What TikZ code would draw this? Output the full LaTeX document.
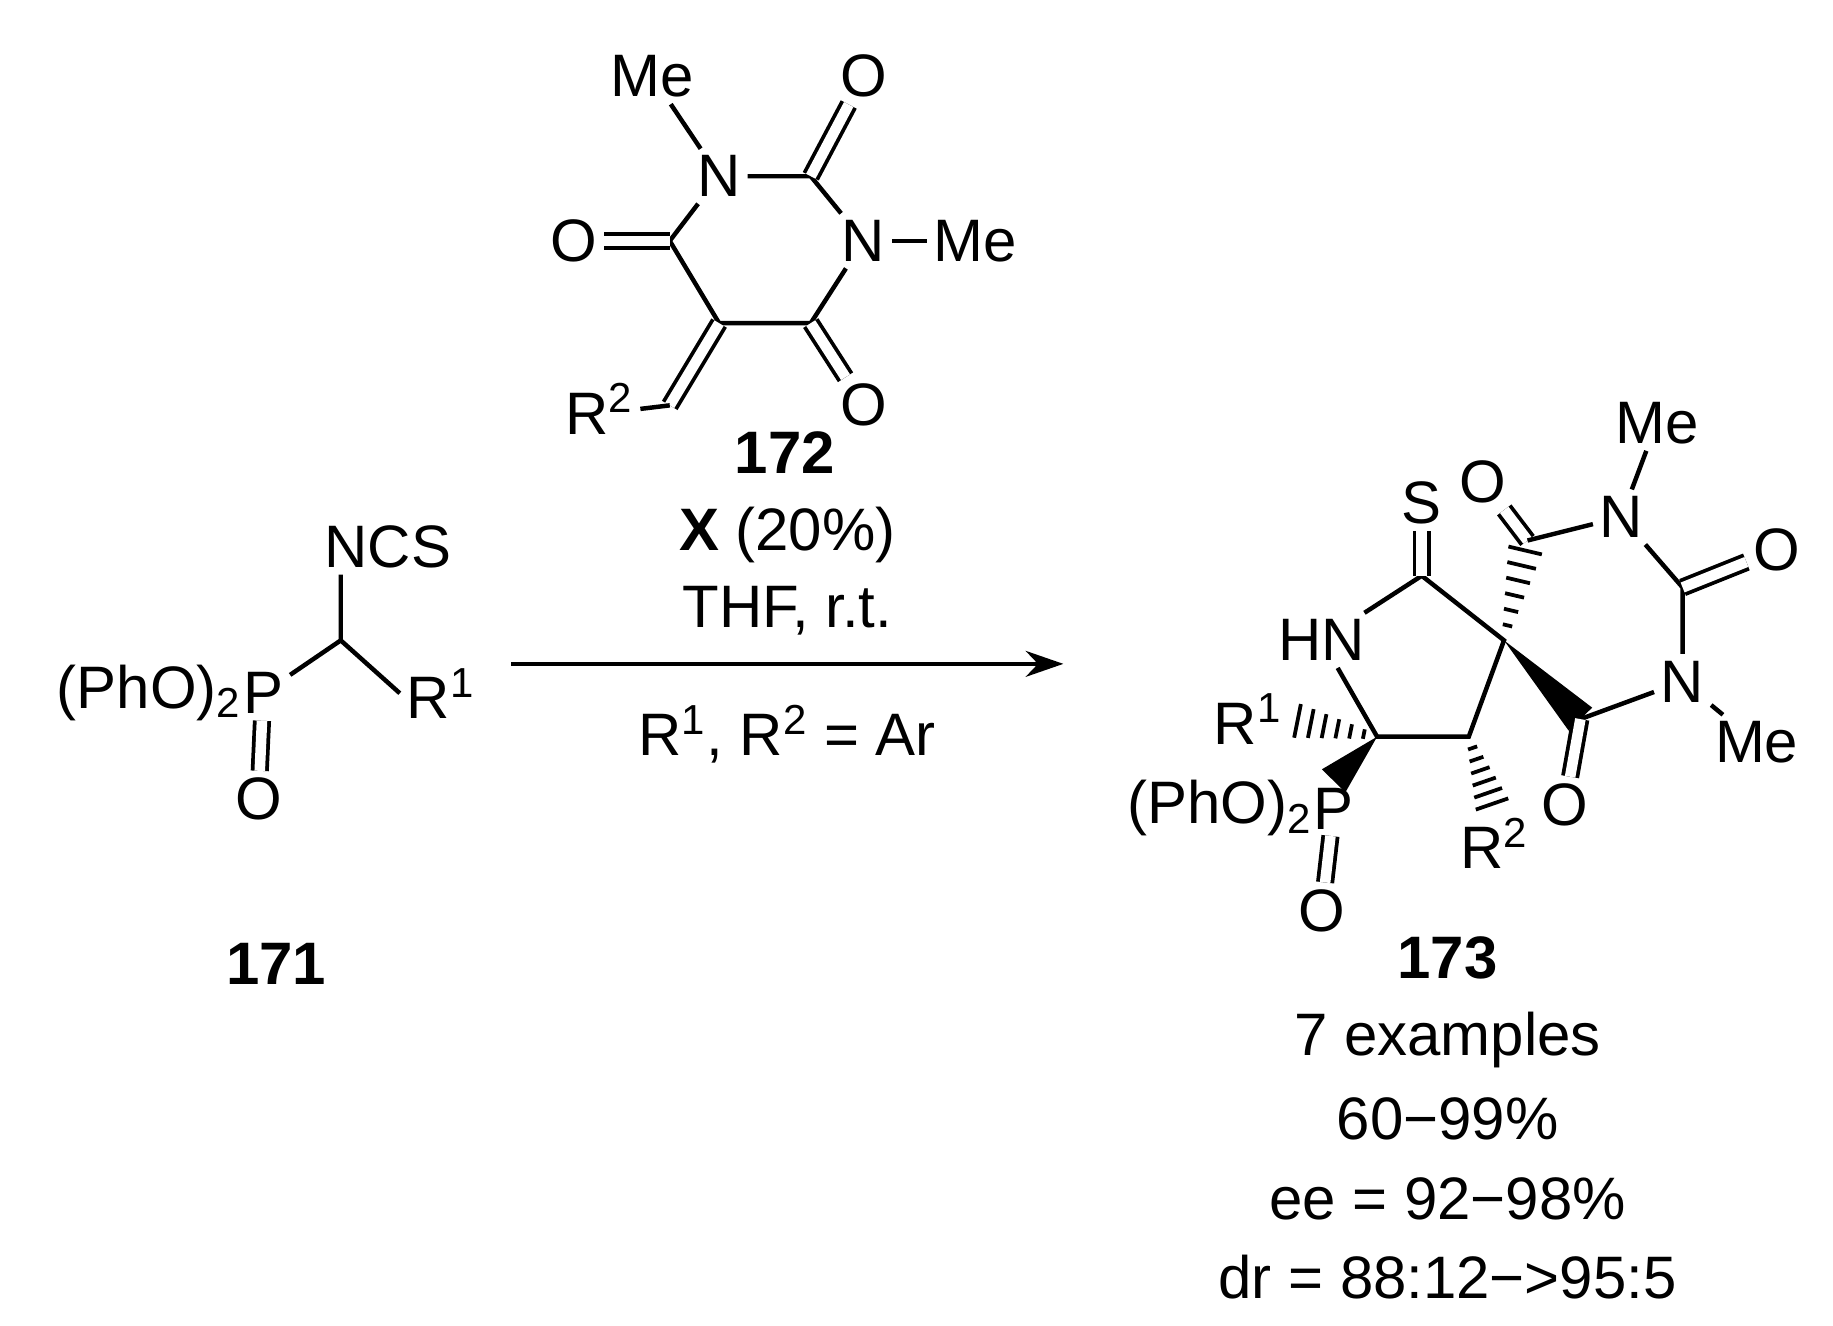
\documentclass[tikz,border=0pt]{standalone}
\usepackage{fontspec}
\setmainfont{Liberation Sans}
\usetikzlibrary{calc,arrows.meta}
\newcommand\hashb[2]{%
  \foreach \t in {0.15,0.3,...,1.0}{%
    \pgfmathsetmacro\w{1+\t*7}
    \coordinate (hh) at ($(#1)!\t!(#2)$);
    \draw[line width=1.6pt] ($(hh)!\w pt!90:(#2)$) -- ($(hh)!\w pt!-90:(#2)$);}}
\newcommand\wedgeb[2]{\fill (#1) -- ($(#2)!7pt!90:(#1)$) -- ($(#2)!7pt!-90:(#1)$) -- cycle;}
\begin{document}
\begin{tikzpicture}[x=0.5pt,y=-0.5pt,line width=1.9pt,
  every node/.style={font=\fontsize{25.5}{30}\selectfont},
  atm/.style={inner sep=2pt},
  lbl/.style={inner sep=0pt},
  dbl/.style={double, double distance=4.5pt, line width=1.6pt}]
\useasboundingbox (0,0) rectangle (1560,1128);
% ---- 172 ----
\node[atm] (n1) at (612,150) {N};
\coordinate (c2) at (690,150);
\node[atm] (n3) at (735,205) {N};
\coordinate (c4) at (690,275);
\coordinate (c5) at (612,275);
\coordinate (c6) at (570,205);
\node[atm] (me1) at (555,65) {Me};
\node[atm] (o2) at (735,65) {O};
\node[atm] (me3) at (830,205) {Me};
\node[atm] (o6) at (488,205) {O};
\node[atm] (o4) at (735,345) {O};
\coordinate (ch) at (570,345);
\node[atm,anchor=east] (r2a) at (545,348) {R\textsuperscript{2}};
\draw (me1) -- (n1) -- (c2) -- (n3) -- (c4) -- (c5) -- (c6) -- (n1);
\draw (n3) -- (me3);
\draw[dbl] (c2) -- (o2);
\draw[dbl] (c6) -- (o6);
\draw[dbl] (c4) -- (o4);
\draw[dbl] (c5) -- (ch);
\draw (ch) -- (r2a.east);
\node[font=\fontsize{25.5}{30}\selectfont\bfseries] (l172) at (668,385) {172};
% ---- 171 ----
\coordinate (ca) at (290,545);
\node[atm] (ncs) at (330,465) {NCS};
\node[atm] (p1) at (224,590) {P};
\node[lbl,anchor=east,xshift=3pt] (pho1) at (p1.west) {(PhO)\textsubscript{2}};
\node[atm] (r1) at (375,590) {R\textsuperscript{1}};
\node[atm] (op1) at (220,680) {O};
\draw (ncs.south -| ca) -- (ca) -- (p1);
\draw (ca) -- (r1.west);
\draw[dbl] (p1) -- (op1);
\node[font=\fontsize{25.5}{30}\selectfont\bfseries] (l171) at (235,820) {171};
% ---- arrow ----
\coordinate (a1) at (435,565);
\coordinate (a2) at (905,565);
\draw[-{Stealth[length=16pt,width=11pt]}] (a1) -- (a2);
\node (cx) at (670,455) {\textbf{X} (20\%)};
\node (ct) at (670,520) {THF, r.t.};
\node (cr) at (670,625) {R\textsuperscript{1}, R\textsuperscript{2} = Ar};
% ---- 173 ----
\node[atm] (hn) at (1125,545) {HN};
\coordinate (cs) at (1210,490);
\node[atm] (s) at (1210,428) {S};
\coordinate (sp) at (1280,545);
\coordinate (c4b) at (1250,627);
\coordinate (c5b) at (1172,627);
\node[atm] (r1b) at (1062,612) {R\textsuperscript{1}};
\node[atm] (p2) at (1135,688) {P};
\node[lbl,anchor=east,xshift=3pt] (pho2) at (p2.west) {(PhO)\textsubscript{2}};
\node[atm] (op2) at (1125,775) {O};
\node[atm] (r2b) at (1272,718) {R\textsuperscript{2}};
\coordinate (cu) at (1300,460);
\node[atm] (ou) at (1262,410) {O};
\node[atm] (nu) at (1380,440) {N};
\node[atm] (meu) at (1410,360) {Me};
\coordinate (cm) at (1432,500);
\node[atm] (om) at (1512,468) {O};
\node[atm] (nd) at (1432,580) {N};
\node[atm] (med) at (1495,632) {Me};
\coordinate (cd) at (1345,612);
\node[atm] (od) at (1332,685) {O};
\draw (hn) -- (cs) -- (sp) -- (c4b) -- (c5b) -- (hn);
\draw[dbl] (cs) -- (s);
\hashb{c5b}{r1b.east}
\wedgeb{c5b}{p2.north}
\draw[dbl] (p2) -- (op2);
\hashb{c4b}{r2b.north}
\hashb{sp}{cu}
\draw[dbl] (cu) -- (ou);
\draw (cu) -- (nu) -- (meu);
\draw (nu) -- (cm) -- (nd) -- (med);
\draw[dbl] (cm) -- (om);
\draw (nd) -- (cd);
\wedgeb{sp}{cd}
\draw[dbl] (cd) -- (od);
\node[font=\fontsize{25.5}{30}\selectfont\bfseries] (l173) at (1232,815) {173};
\node (e1) at (1232,885) {7 examples};
\node (e2) at (1232,952) {60−99\%};
\node (e3) at (1232,1020) {ee = 92−98\%};
\node (e4) at (1232,1087) {dr = 88:12−>95:5};
\end{tikzpicture}
\end{document}
